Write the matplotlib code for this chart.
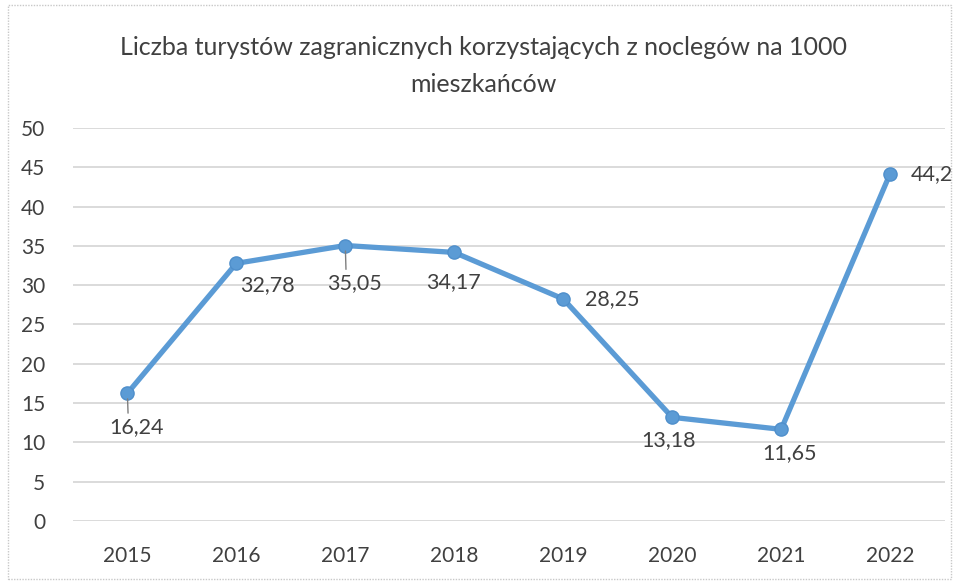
import matplotlib
matplotlib.use("Agg")
import matplotlib.pyplot as plt
from matplotlib.patches import Rectangle

# data
years = ["2015", "2016", "2017", "2018", "2019", "2020", "2021", "2022"]
values = [16.24, 32.78, 35.05, 34.17, 28.25, 13.18, 11.65, 44.2]
labels = ["16,24", "32,78", "35,05", "34,17", "28,25", "13,18", "11,65", "44,2"]
yticks = [0, 5, 10, 15, 20, 25, 30, 35, 40, 45, 50]

# label offsets in pixels (dx, dy) and whether a leader line is drawn
offsets = [(9, -34), (31, -22), (9, -38), (-1, -30), (49, 0), (-4, -23), (8, -24), (42, 0)]
leaders = [True, False, True, False, False, False, False, False]

plt.rcParams['font.family'] = ['Lato', 'DejaVu Sans']
txt = '#404040'
blue = '#5b9bd5'

fig = plt.figure(figsize=(9.59, 5.82), dpi=100)
ax = fig.add_axes([0.076, 0.105, 0.909, 0.675])

x = list(range(len(years)))
ax.plot(x, values, color=blue, lw=3.8, marker='o', ms=9.5,
        markerfacecolor=blue, markeredgecolor='#4f8fcb', markeredgewidth=1, zorder=3)

for i in x:
    dx, dy = offsets[i]
    kw = {}
    if leaders[i]:
        kw['arrowprops'] = dict(arrowstyle='-', color='#7f7f7f', lw=1,
                                shrinkA=1, shrinkB=4, relpos=(0.35, 1.0))
    ax.annotate(labels[i], (i, values[i]), xytext=(dx, dy), textcoords='offset pixels',
                ha='center', va='center', fontsize=15.5, color=txt, zorder=4, **kw)

ax.set_xlim(-0.5, len(years) - 0.5)
ax.set_ylim(0, 50)
ax.set_yticks(yticks)
ax.set_xticks(x)
ax.set_xticklabels(years)
ax.tick_params(axis='both', length=0, labelsize=15, labelcolor=txt)
ax.tick_params(axis='y', pad=20)
ax.tick_params(axis='x', pad=18)
ax.grid(axis='y', color='#d4d4d4', lw=1.2)
ax.set_axisbelow(True)
for s in ax.spines.values():
    s.set_visible(False)

fig.text(0.504, 0.919, "Liczba turystów zagranicznych korzystających z noclegów na 1000",
         ha='center', va='center', fontsize=18, color=txt)
fig.text(0.504, 0.854, "mieszkańców", ha='center', va='center', fontsize=18, color=txt)

fig.patches.append(Rectangle((0.008, 0.006), 0.984, 0.985, transform=fig.transFigure,
                             fill=False, ec='#c8c8c8', lw=1, ls=(0, (1, 1))))

fig.savefig("out.png", dpi=100)
